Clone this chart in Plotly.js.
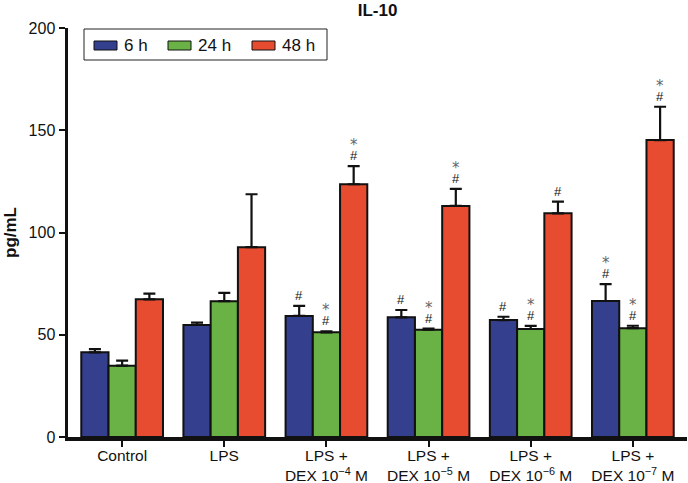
<!DOCTYPE html>
<html>
<head>
<meta charset="utf-8">
<script src="https://cdn.plot.ly/plotly-3.0.1.min.js"></script>
<style>
  html, body { margin: 0; padding: 0; background: #fff; }
  #chart { width: 688px; height: 483px; }
</style>
</head>
<body>
<div id="chart"></div>
<script>
// ---- Data ----
const categories = [
  'Control',
  'LPS',
  'LPS +<br>DEX 10<sup>−4</sup> M',
  'LPS +<br>DEX 10<sup>−5</sup> M',
  'LPS +<br>DEX 10<sup>−6</sup> M',
  'LPS +<br>DEX 10<sup>−7</sup> M'
];
const seriesNames = ['6 h', '24 h', '48 h'];
const values6h  = [41.4, 54.8, 59.2, 58.5, 57.2, 66.5];
const values24h = [34.9, 66.4, 51.2, 52.5, 52.8, 53.2];
const values48h = [67.3, 92.8, 123.6, 113.0, 109.4, 145.2];
const err6h  = [1.6, 1.2, 4.9, 3.6, 1.6, 8.3];
const err24h = [2.4, 4.1, 0.5, 0.5, 1.5, 1.2];
const err48h = [2.8, 25.9, 8.9, 8.3, 5.7, 16.3];
// significance marks
const hash6h  = [false, false, true, true, true, true];
const star6h  = [false, false, false, false, false, true];
const hash24h = [false, false, true, true, true, true];
const star24h = [false, false, true, true, true, true];
const hash48h = [false, false, true, true, true, true];
const star48h = [false, false, true, true, false, true];
const yTicks = [0, 50, 100, 150, 200];

const colors = ['#343f8e', '#6ab245', '#e84c30'];
const FONT = 'Liberation Sans, Arial, sans-serif';

const allVals = [values6h, values24h, values48h];
const allErr = [err6h, err24h, err48h];
const allHash = [hash6h, hash24h, hash48h];
const allStar = [star6h, star24h, star48h];

const traces = allVals.map((vals, s) => ({
  type: 'bar',
  name: seriesNames[s],
  x: categories,
  y: vals,
  showlegend: false,
  marker: { color: colors[s], line: { color: '#111', width: 2 } },
  error_y: {
    type: 'data', symmetric: false,
    array: allErr[s], arrayminus: vals.map(() => 0),
    color: '#111', thickness: 2.2, width: 6
  }
}));

// annotations for significance marks
const bargap = 0.2;
const barW = (1 - bargap) / 3;
const annotations = [];
allVals.forEach((vals, s) => {
  vals.forEach((v, i) => {
    const xpos = i + (s - 1) * barW;
    const top = v + allErr[s][i];
    if (allHash[s][i]) {
      annotations.push({
        x: xpos, y: top, xref: 'x', yref: 'y', text: '#', showarrow: false,
        yanchor: 'bottom', yshift: 1,
        font: { family: FONT, size: 13, color: '#111' }
      });
    }
    if (allStar[s][i]) {
      annotations.push({
        x: xpos, y: top, xref: 'x', yref: 'y', text: '*', showarrow: false,
        yanchor: 'bottom', yshift: 10,
        font: { family: 'DejaVu Sans, sans-serif', size: 15, color: '#666' }
      });
    }
  });
});

// ---- Legend drawn as a boxed row of wide swatches (plot-area paper coords) ----
const L = 68, R = 687, T = 28, B = 437;
const px2x = px => (px - L) / (R - L);
const py2y = py => (B - py) / (B - T);
const shapes = [{
  type: 'rect', xref: 'paper', yref: 'paper',
  x0: px2x(84), x1: px2x(327), y0: py2y(60), y1: py2y(29),
  line: { color: '#222', width: 1 }, fillcolor: '#fff', layer: 'above'
}];
const swatchLeft = [94, 168, 252];
seriesNames.forEach((name, s) => {
  const sx = swatchLeft[s];
  shapes.push({
    type: 'rect', xref: 'paper', yref: 'paper',
    x0: px2x(sx), x1: px2x(sx + 23), y0: py2y(50), y1: py2y(41),
    line: { color: '#111', width: 1 }, fillcolor: colors[s], layer: 'above'
  });
  annotations.push({
    xref: 'paper', yref: 'paper', x: px2x(sx + 28), y: py2y(45.5),
    xanchor: 'left', yanchor: 'middle', showarrow: false, text: name,
    font: { family: FONT, size: 17, color: '#111' }
  });
});

const layout = {
  width: 688, height: 483,
  margin: { l: L, r: 688 - R, t: T, b: 483 - B },
  paper_bgcolor: '#fff', plot_bgcolor: '#fff',
  font: { family: FONT, size: 16, color: '#111' },
  title: {
    text: '<b>IL-10</b>', x: 0.5, xref: 'paper', y: 0.979, yref: 'container', yanchor: 'middle',
    font: { size: 17, color: '#111' }
  },
  barmode: 'group', bargap: bargap, bargroupgap: 0,
  xaxis: {
    type: 'category',
    range: [-0.53, 5.53],
    showline: true, linecolor: '#111', linewidth: 3.5,
    ticks: 'outside', ticklen: 6, tickwidth: 2, tickcolor: '#111',
    ticklabelstandoff: -4,
    tickfont: { size: 15.5 }, fixedrange: true, automargin: false
  },
  yaxis: {
    range: [0, 200], tickvals: yTicks,
    showline: true, linecolor: '#111', linewidth: 3.5,
    ticks: 'outside', ticklen: 6, tickwidth: 2, tickcolor: '#111',
    showgrid: false, zeroline: false,
    tickfont: { size: 16 },
    title: { text: '<b>pg/mL</b>', font: { size: 17 }, standoff: 8 },
    automargin: false
  },
  showlegend: false,
  shapes: shapes,
  annotations: annotations
};

Plotly.newPlot('chart', traces, layout, { displayModeBar: false, staticPlot: true });
</script>
</body>
</html>
